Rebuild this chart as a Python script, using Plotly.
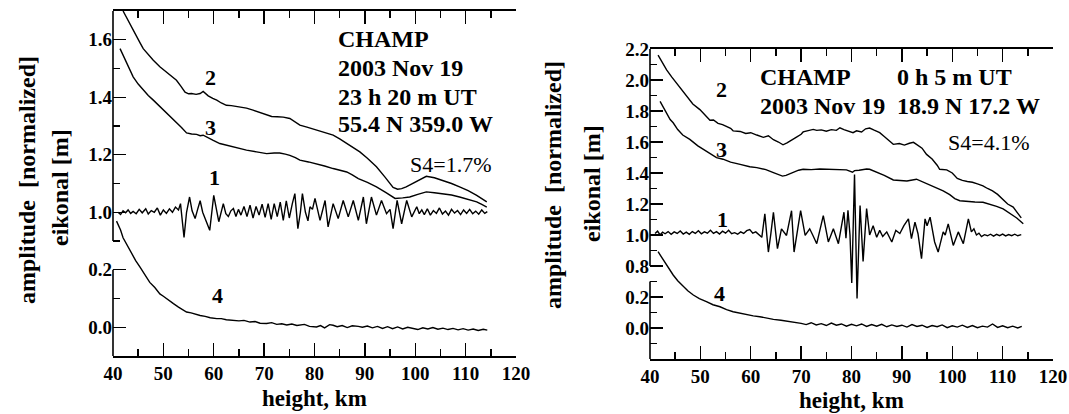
import plotly.graph_objects as go

W, H = 1069, 414

# ---------------- Left panel data (23 h 20 m UT) ----------------
L1_km = [41.0, 41.5, 42.0, 42.5, 43.0, 43.5, 44.0, 44.6, 45.2, 45.8, 46.5, 47.0, 47.6, 48.2, 48.8, 49.4, 50.0, 50.6,
         51.2, 51.8, 52.4, 53.0, 53.4, 54.1, 54.6, 55.2, 55.7, 56.3, 56.8, 57.3, 57.8, 58.3, 59.2, 60.0, 60.5, 61.0,
         61.9, 62.4, 62.9, 63.4, 63.9, 64.4, 64.9, 65.4, 66.0, 66.6, 67.2, 67.8, 68.4, 69.0, 69.6, 70.2, 70.8, 71.4,
         72.0, 72.6, 73.2, 73.8, 74.4, 75.0, 75.6, 76.1, 76.7, 77.2, 77.6, 78.2, 78.7, 79.1, 79.6, 80.1, 81.1, 82.1,
         82.7, 83.7, 84.7, 85.7, 86.7, 87.7, 88.7, 89.7, 90.3, 91.3, 92.3, 93.3, 94.3, 95.0, 95.6, 96.4, 97.3, 98.3,
         99.3, 100.3, 100.8, 101.3, 101.8, 102.4, 103.0, 103.6, 104.2, 104.8, 105.4, 106.0, 106.6, 107.2, 107.8,
         108.4, 109.0, 109.6, 110.2, 110.8, 111.4, 112.0, 112.6, 113.2, 113.8, 114.3]
L1_val = [1.000, 0.992, 1.005, 0.998, 1.008, 0.996, 1.003, 0.995, 1.010, 0.998, 1.012, 0.994, 1.006, 1.000, 1.015,
          0.990, 1.008, 0.996, 1.012, 1.000, 1.018, 1.008, 1.030, 0.912, 1.000, 1.053, 1.005, 0.978, 1.010, 1.040,
          1.000, 0.978, 0.937, 1.059, 1.010, 0.967, 1.030, 0.995, 0.985, 1.005, 1.013, 0.985, 1.010, 0.990, 1.020,
          0.985, 1.025, 0.980, 1.020, 0.990, 1.028, 0.982, 1.030, 0.975, 1.030, 0.985, 1.035, 0.972, 1.040, 0.980,
          1.030, 1.065, 0.943, 1.000, 1.065, 1.000, 0.970, 1.019, 1.010, 1.048, 0.972, 1.041, 0.949, 1.030, 0.978,
          1.041, 0.984, 1.041, 0.972, 1.053, 0.960, 1.053, 0.990, 1.041, 0.995, 1.010, 0.943, 1.041, 0.960, 1.041,
          0.984, 1.019, 0.995, 1.008, 0.992, 1.012, 0.990, 1.006, 0.996, 1.015, 0.994, 1.004, 0.990, 1.010, 0.997,
          1.006, 0.992, 1.008, 0.996, 1.010, 0.995, 1.004, 0.993, 1.008, 0.996, 1.002]

L2_km = [42.0, 42.7, 43.4, 44.0, 44.7, 45.4, 46.0, 47.0, 48.0, 49.3, 50.6, 51.6, 52.6, 53.5, 54.3, 55.0, 55.6, 56.5,
         57.3, 57.9, 58.9, 59.8, 60.6, 61.5, 62.5, 63.5, 64.5, 65.2, 66.5, 67.8, 69.0, 70.5, 71.5, 72.6, 73.8, 75.1,
         76.0, 77.1, 78.5, 80.4, 82.0, 83.7, 85.0, 86.4, 87.5, 89.0, 90.5, 92.3, 94.0, 95.6, 96.5, 97.3, 98.2, 98.9,
         100.5, 102.2, 103.8, 105.5, 107.2, 108.8, 110.5, 112.2, 113.2, 114.2]
L2_val = [1.700, 1.676, 1.656, 1.632, 1.610, 1.588, 1.569, 1.548, 1.529, 1.506, 1.488, 1.474, 1.459, 1.438, 1.418,
          1.412, 1.413, 1.410, 1.413, 1.420, 1.405, 1.396, 1.390, 1.380, 1.372, 1.371, 1.368, 1.366, 1.362, 1.355,
          1.348, 1.337, 1.333, 1.332, 1.331, 1.326, 1.316, 1.303, 1.296, 1.285, 1.278, 1.268, 1.255, 1.240, 1.228,
          1.210, 1.188, 1.158, 1.122, 1.086, 1.080, 1.082, 1.088, 1.094, 1.110, 1.125, 1.120, 1.111, 1.100, 1.088,
          1.075, 1.059, 1.048, 1.036]

L3_km = [41.4, 42.0, 42.7, 43.4, 44.0, 45.0, 46.0, 47.0, 48.0, 49.3, 50.6, 51.6, 52.6, 53.6, 54.6, 55.6, 56.6, 57.3,
         57.9, 58.9, 59.9, 61.2, 62.5, 63.9, 65.2, 66.5, 68.5, 70.5, 72.0, 73.1, 74.2, 75.1, 76.2, 77.1, 78.8, 80.4,
         82.0, 83.7, 85.0, 86.4, 87.5, 88.7, 90.5, 92.3, 94.2, 96.0, 97.5, 98.9, 100.5, 102.2, 103.8, 105.5, 107.2,
         108.8, 110.5, 112.2, 113.2, 114.2]
L3_val = [1.569, 1.545, 1.517, 1.493, 1.471, 1.446, 1.424, 1.406, 1.390, 1.368, 1.349, 1.331, 1.314, 1.295, 1.276,
          1.272, 1.271, 1.266, 1.268, 1.258, 1.250, 1.239, 1.233, 1.227, 1.222, 1.216, 1.210, 1.204, 1.206, 1.206,
          1.202, 1.198, 1.190, 1.181, 1.175, 1.169, 1.161, 1.152, 1.146, 1.140, 1.130, 1.117, 1.104, 1.088, 1.068,
          1.048, 1.050, 1.053, 1.062, 1.071, 1.068, 1.065, 1.060, 1.053, 1.045, 1.036, 1.027, 1.018]

L4_km = [40.7, 41.5, 42.0, 42.8, 43.7, 44.5, 45.4, 46.3, 47.3, 48.3, 49.3, 50.0, 51.0, 52.0, 53.0, 54.0, 54.6, 55.5,
         56.5, 57.3, 58.3, 59.3, 60.6, 61.5, 62.5, 63.9, 65.0, 66.0, 67.2, 68.2, 69.2, 70.5, 71.5, 72.5, 73.5, 74.5,
         75.5, 76.5, 77.1, 78.0, 79.0, 80.4, 81.2, 82.0, 83.0, 83.7, 84.5, 85.5, 86.5, 87.5, 88.7, 89.5, 90.5, 91.5,
         92.5, 93.5, 94.5, 95.5, 96.5, 97.5, 98.5, 99.5, 100.5, 101.5, 102.5, 103.5, 104.5, 105.5, 106.5, 107.5,
         108.5, 109.5, 110.5, 111.5, 112.5, 113.5, 114.3]
L4_val = [0.369, 0.338, 0.311, 0.285, 0.254, 0.232, 0.208, 0.184, 0.156, 0.138, 0.116, 0.108, 0.094, 0.082, 0.070,
          0.060, 0.053, 0.050, 0.044, 0.041, 0.038, 0.033, 0.030, 0.030, 0.026, 0.024, 0.022, 0.024, 0.018, 0.020,
          0.014, 0.013, 0.016, 0.010, 0.012, 0.008, 0.011, 0.006, 0.007, 0.010, 0.003, 0.001, 0.006, -0.002, 0.009,
          0.007, 0.002, 0.006, -0.001, 0.005, 0.003, 0.000, 0.004, -0.002, 0.003, -0.004, 0.002, -0.005, 0.001,
          -0.006, 0.000, -0.003, -0.008, -0.002, -0.006, -0.001, -0.007, -0.003, -0.008, -0.004, -0.009, -0.005,
          -0.010, -0.006, -0.011, -0.007, -0.010]

# ---------------- Right panel data (0 h 5 m UT) ----------------
R1_km = [41.0, 41.5, 42.0, 42.5, 43.0, 43.6, 44.2, 44.8, 45.4, 46.0, 46.6, 47.2, 47.8, 48.4, 49.0, 49.6, 50.2, 50.8,
         51.4, 52.0, 52.6, 53.2, 53.8, 54.4, 55.0, 55.6, 56.2, 56.8, 57.4, 58.0, 58.6, 59.2, 59.8, 60.4, 61.0, 61.6,
         62.2, 62.8, 63.5, 64.0, 64.5, 65.3, 66.1, 67.1, 68.1, 68.6, 69.9, 70.8, 71.7, 72.3, 73.1, 74.4, 75.4, 76.4,
         77.4, 78.5, 78.9, 79.3, 79.7, 80.05, 80.6, 81.1, 81.7, 82.3, 83.0, 83.6, 84.3, 85.0, 85.6, 86.2, 87.0, 88.0,
         88.8, 89.6, 90.4, 91.3, 91.9, 92.6, 93.2, 93.9, 94.6, 95.0, 95.6, 96.5, 97.2, 98.2, 98.6, 99.2, 100.2,
         101.2, 102.2, 103.2, 103.8, 104.3, 104.8, 105.3, 105.8, 106.4, 107.0, 107.6, 108.2, 108.8, 109.4, 110.0,
         110.6, 111.2, 111.8, 112.4, 113.0, 113.7]
R1_val = [1.010, 1.025, 1.000, 1.018, 1.008, 1.022, 1.005, 1.020, 1.010, 1.026, 1.006, 1.018, 1.004, 1.022, 1.010,
          1.028, 1.008, 1.020, 1.012, 1.030, 1.010, 1.022, 1.006, 1.025, 1.012, 1.030, 1.008, 1.015, 1.005, 1.020,
          1.010, 1.028, 1.035, 1.012, 1.020, 1.000, 0.985, 1.136, 0.890, 1.010, 1.147, 0.912, 1.040, 0.997, 1.157,
          0.890, 1.157, 0.997, 1.040, 1.000, 0.944, 1.125, 0.955, 1.040, 0.944, 1.147, 0.980, 1.160, 1.000, 0.690,
          1.390, 0.590, 1.190, 0.830, 1.170, 1.000, 1.060, 0.985, 1.030, 0.990, 1.020, 0.955, 1.030, 1.010, 1.060,
          1.104, 0.976, 1.083, 1.008, 0.847, 1.104, 1.060, 1.115, 0.955, 0.890, 1.020, 1.000, 1.072, 0.933, 1.020,
          0.944, 1.104, 1.020, 1.040, 1.000, 1.012, 0.990, 1.002, 0.995, 1.005, 0.993, 1.004, 0.996, 1.006, 0.994,
          1.003, 0.996, 1.005, 0.995, 1.002]

R2_km = [41.6, 42.5, 43.3, 44.3, 45.3, 46.3, 47.3, 48.5, 49.9, 51.0, 51.9, 52.6, 53.5, 54.4, 55.2, 56.0, 56.5, 57.9,
         59.0, 60.0, 61.2, 62.5, 63.5, 64.5, 65.5, 66.4, 67.2, 68.1, 69.0, 70.0, 70.4, 71.2, 72.4, 73.1, 74.0, 75.0,
         76.0, 77.0, 77.7, 78.5, 79.7, 80.3, 81.0, 82.0, 82.8, 83.6, 84.5, 85.6, 86.5, 87.5, 88.3, 89.5, 90.5, 91.5,
         92.3, 92.9, 94.0, 94.9, 96.0, 97.0, 97.5, 98.9, 100.0, 101.0, 102.0, 103.0, 104.0, 105.0, 106.1, 107.0,
         108.0, 109.0, 110.1, 111.0, 112.1, 113.0, 113.7]
R2_val = [2.160, 2.110, 2.065, 2.020, 1.980, 1.935, 1.894, 1.845, 1.809, 1.770, 1.740, 1.742, 1.720, 1.712, 1.700,
          1.688, 1.672, 1.668, 1.655, 1.660, 1.645, 1.630, 1.640, 1.615, 1.600, 1.582, 1.595, 1.610, 1.630, 1.650,
          1.665, 1.672, 1.681, 1.675, 1.678, 1.670, 1.680, 1.675, 1.692, 1.680, 1.665, 1.660, 1.672, 1.665, 1.685,
          1.690, 1.676, 1.660, 1.635, 1.610, 1.585, 1.590, 1.580, 1.592, 1.598, 1.585, 1.560, 1.520, 1.490, 1.450,
          1.424, 1.420, 1.400, 1.365, 1.352, 1.345, 1.340, 1.330, 1.317, 1.300, 1.285, 1.262, 1.230, 1.200, 1.180,
          1.140, 1.110]

R3_km = [42.0, 43.0, 44.0, 44.6, 45.5, 46.5, 47.9, 49.5, 51.2, 53.2, 54.5, 56.0, 57.9, 59.8, 61.2, 63.0, 64.5, 65.5,
         66.3, 67.0, 68.4, 69.5, 70.4, 72.0, 73.7, 75.0, 77.0, 79.0, 80.2, 80.6, 81.5, 83.0, 83.6, 85.0, 86.5, 88.3,
         89.5, 91.0, 92.9, 94.0, 95.5, 97.0, 98.2, 99.5, 100.5, 101.5, 103.0, 104.5, 106.1, 107.5, 108.8, 110.1,
         111.5, 112.8, 114.1]
R3_val = [1.862, 1.800, 1.745, 1.724, 1.680, 1.645, 1.617, 1.575, 1.542, 1.499, 1.489, 1.470, 1.456, 1.440, 1.435,
          1.422, 1.403, 1.392, 1.380, 1.385, 1.403, 1.418, 1.424, 1.422, 1.426, 1.424, 1.423, 1.420, 1.405, 1.415,
          1.418, 1.426, 1.424, 1.405, 1.385, 1.355, 1.350, 1.348, 1.360, 1.345, 1.320, 1.300, 1.285, 1.260, 1.235,
          1.221, 1.215, 1.213, 1.211, 1.200, 1.185, 1.168, 1.140, 1.110, 1.072]

R4_km = [41.6, 42.3, 43.3, 44.0, 44.6, 45.5, 46.6, 47.5, 48.6, 49.8, 51.2, 52.5, 53.9, 55.2, 56.5, 57.8, 59.2, 60.5,
         61.8, 63.2, 64.5, 66.0, 67.0, 68.4, 69.5, 70.0, 71.0, 72.0, 73.0, 74.0, 75.0, 76.0, 77.0, 78.0, 79.0, 80.0,
         81.0, 82.0, 83.0, 84.0, 85.0, 86.0, 87.0, 88.0, 89.0, 90.0, 91.0, 92.0, 93.0, 94.0, 95.0, 96.0, 97.0, 98.0,
         99.0, 100.0, 101.0, 102.0, 103.0, 104.0, 105.0, 106.0, 107.0, 108.0, 109.0, 110.0, 111.0, 112.0, 113.0, 113.8]
R4_val = [0.492, 0.455, 0.406, 0.370, 0.342, 0.305, 0.266, 0.240, 0.213, 0.190, 0.170, 0.150, 0.137, 0.118, 0.105,
          0.095, 0.084, 0.078, 0.073, 0.062, 0.056, 0.050, 0.045, 0.041, 0.036, 0.030, 0.022, 0.034, 0.020, 0.028,
          0.016, 0.032, 0.018, 0.026, 0.012, 0.024, 0.014, 0.026, 0.010, 0.022, 0.012, 0.024, 0.008, 0.020, 0.010,
          0.018, 0.006, 0.022, 0.010, 0.018, 0.004, 0.016, 0.008, 0.020, 0.002, 0.014, 0.006, 0.018, 0.004, 0.016,
          0.002, 0.012, 0.006, 0.026, 0.004, 0.014, 0.002, 0.012, 0.000, 0.010]

# ---------------- Tick labels ----------------
X_TICKS = [40, 50, 60, 70, 80, 90, 100, 110, 120]
X_MINOR = [45, 55, 65, 75, 85, 95, 105, 115]

L_AMP_TICKS = [1.0, 1.2, 1.4, 1.6]
L_AMP_LABELS = ["1.0", "1.2", "1.4", "1.6"]
L_AMP_MINOR = [0.9, 1.1, 1.3, 1.5]
L_EIK_TICKS = [0.0, 0.2]
L_EIK_LABELS = ["0.0", "0.2"]
L_EIK_MINOR = [0.1]
L_RIGHT_TICKS = [0.6, 0.7, 0.8, 0.9, 1.0, 1.1, 1.2, 1.3, 1.4, 1.5, 1.6]

R_AMP_TICKS = [0.8, 1.0, 1.2, 1.4, 1.6, 1.8, 2.0, 2.2]
R_AMP_LABELS = ["0.8", "1.0", "1.2", "1.4", "1.6", "1.8", "2.0", "2.2"]
R_AMP_MINOR = [0.9, 1.1, 1.3, 1.5, 1.7, 1.9, 2.1]
R_EIK_TICKS = [0.0, 0.2]
R_EIK_LABELS = ["0.0", "0.2"]
R_EIK_MINOR = [-0.1, 0.1, 0.3]
R_RIGHT_TICKS = [0.3, 0.4, 0.5, 0.6, 0.7, 0.8, 0.9, 1.0, 1.1, 1.2, 1.3, 1.4, 1.5, 1.6, 1.7, 1.8, 1.9, 2.0, 2.1]

# ---------------- Styling ----------------
SERIF = "Liberation Serif, Times New Roman, serif"
TICKFONT = dict(family=SERIF, size=19, color="black", weight="bold")
LINE = dict(color="black", width=1.4)


def fx(p):
    return p / W


def fy(p):
    return 1 - p / H


# panel boxes in pixels: (left, right, top, bottom)
LP = (113, 516, 11, 356)
RP = (650, 1053, 49, 359)

fig = go.Figure()

fig.add_trace(go.Scatter(x=L1_km, y=L1_val, mode="lines", line=LINE, xaxis="x", yaxis="y"))
fig.add_trace(go.Scatter(x=L2_km, y=L2_val, mode="lines", line=LINE, xaxis="x", yaxis="y"))
fig.add_trace(go.Scatter(x=L3_km, y=L3_val, mode="lines", line=LINE, xaxis="x", yaxis="y"))
fig.add_trace(go.Scatter(x=L4_km, y=L4_val, mode="lines", line=LINE, xaxis="x", yaxis="y3"))

fig.add_trace(go.Scatter(x=R1_km, y=R1_val, mode="lines", line=LINE, xaxis="x2", yaxis="y2"))
fig.add_trace(go.Scatter(x=R2_km, y=R2_val, mode="lines", line=LINE, xaxis="x2", yaxis="y2"))
fig.add_trace(go.Scatter(x=R3_km, y=R3_val, mode="lines", line=LINE, xaxis="x2", yaxis="y2"))
fig.add_trace(go.Scatter(x=R4_km, y=R4_val, mode="lines", line=LINE, xaxis="x2", yaxis="y4"))


def xaxis_cfg(box, anchor):
    return dict(domain=[fx(box[0]), fx(box[1])], range=[40, 120], anchor=anchor, automargin=False,
                tickmode="array", tickvals=X_TICKS, ticktext=[str(v) for v in X_TICKS],
                ticks="inside", ticklen=13, tickwidth=1.4, tickcolor="black",
                minor=dict(tickmode="array", tickvals=X_MINOR, ticks="inside", ticklen=7,
                           tickwidth=1.4, tickcolor="black"),
                showline=True, linecolor="black", linewidth=1.6, mirror="ticks",
                showgrid=False, zeroline=False, tickfont=TICKFONT, fixedrange=True)


def yaxis_cfg(box, anchor, rng, tv, tt, minor, overlay=None, side="left"):
    d = dict(domain=[fy(box[3]), fy(box[2])], range=rng, anchor=anchor, automargin=False,
             tickmode="array", tickvals=tv, ticktext=tt,
             ticks="inside", ticklen=13, tickwidth=1.4, tickcolor="black",
             showline=False, showgrid=False, zeroline=False, tickfont=TICKFONT,
             side=side, fixedrange=True)
    if minor:
        d["minor"] = dict(tickmode="array", tickvals=minor, ticks="inside", ticklen=7,
                          tickwidth=1.4, tickcolor="black")
    if overlay:
        d["overlaying"] = overlay
    return d


fig.update_layout(
    width=W, height=H,
    margin=dict(l=0, r=0, t=0, b=0, pad=0),
    paper_bgcolor="white", plot_bgcolor="white",
    showlegend=False,
    xaxis=xaxis_cfg(LP, "y"),
    xaxis2=xaxis_cfg(RP, "y2"),
    yaxis=yaxis_cfg(LP, "x", [0.5, 1.7], L_AMP_TICKS, L_AMP_LABELS, L_AMP_MINOR),
    yaxis3=yaxis_cfg(LP, "x", [-0.1, 1.1], L_EIK_TICKS, L_EIK_LABELS, L_EIK_MINOR, overlay="y"),
    yaxis5=dict(yaxis_cfg(LP, "x", [0.5, 1.7], L_RIGHT_TICKS, [""] * len(L_RIGHT_TICKS), None,
                          overlay="y", side="right"),
                showline=True, linecolor="black", linewidth=1.6, showticklabels=False),
    yaxis2=yaxis_cfg(RP, "x2", [0.2, 2.2], R_AMP_TICKS, R_AMP_LABELS, R_AMP_MINOR),
    yaxis4=yaxis_cfg(RP, "x2", [-0.2, 1.8], R_EIK_TICKS, R_EIK_LABELS, R_EIK_MINOR, overlay="y2"),
    yaxis6=dict(yaxis_cfg(RP, "x2", [0.2, 2.2], R_RIGHT_TICKS, [""] * len(R_RIGHT_TICKS), None,
                          overlay="y2", side="right"),
                showline=True, linecolor="black", linewidth=1.6, showticklabels=False),
)

# broken left spines
spine = dict(color="black", width=1.6)
shapes = [
    dict(type="line", xref="x domain", yref="y", x0=0, x1=0, y0=0.9, y1=1.7, line=spine),
    dict(type="line", xref="x domain", yref="y3", x0=0, x1=0, y0=-0.1, y1=0.2, line=spine),
    dict(type="line", xref="x2 domain", yref="y2", x0=0, x1=0, y0=0.8, y1=2.2, line=spine),
    dict(type="line", xref="x2 domain", yref="y4", x0=0, x1=0, y0=-0.2, y1=0.3, line=spine),
]
fig.update_layout(shapes=shapes)

ann = []


def text(t, x, y, size=24, bold=True, xanchor="left", angle=0):
    ann.append(dict(text=t, x=fx(x), y=fy(y), xref="paper", yref="paper", showarrow=False,
                    xanchor=xanchor, yanchor="middle", textangle=angle,
                    font=dict(family=SERIF, size=size, color="black",
                              weight="bold" if bold else "normal")))


# left panel texts
text("CHAMP", 336, 39)
text("2003 Nov 19", 336, 68)
text("23 h 20 m UT", 336, 97)
text("55.4 N 359.0 W", 336, 124)
text("S4=1.7%", 493, 164, size=22, bold=False, xanchor="right")
text("2", 210, 78, size=22, xanchor="center")
text("3", 210, 127, size=22, xanchor="center")
text("1", 214, 177, size=22, xanchor="center")
text("4", 217, 295, size=22, xanchor="center")
text("height, km", 314, 398, size=23, xanchor="center")
text("amplitude  [normalized]", 27, 180, size=24, xanchor="center", angle=-90)
text("eikonal [m]", 60, 188, size=24, xanchor="center", angle=-90)

# right panel texts
text("CHAMP", 758, 77)
text("0 h 5 m UT", 895, 77)
text("2003 Nov 19", 758, 106)
text("18.9 N 17.2 W", 895, 106)
text("S4=4.1%", 1031, 142, size=22, bold=False, xanchor="right")
text("2", 721, 90, size=22, xanchor="center")
text("3", 721, 149, size=22, xanchor="center")
text("1", 722, 219, size=22, xanchor="center")
text("4", 719, 293, size=22, xanchor="center")
text("height, km", 851, 400, size=23, xanchor="center")
text("amplitude  [normalized]", 553, 185, size=24, xanchor="center", angle=-90)
text("eikonal [m]", 592, 184, size=24, xanchor="center", angle=-90)

fig.update_layout(annotations=ann)

# remove the default page margin so the 1069x414 figure fills the window exactly
fig.write_html("out.html",
               config={"displayModeBar": False, "staticPlot": True},
               post_script="document.body.style.margin='0px';document.body.style.overflow='hidden';")
